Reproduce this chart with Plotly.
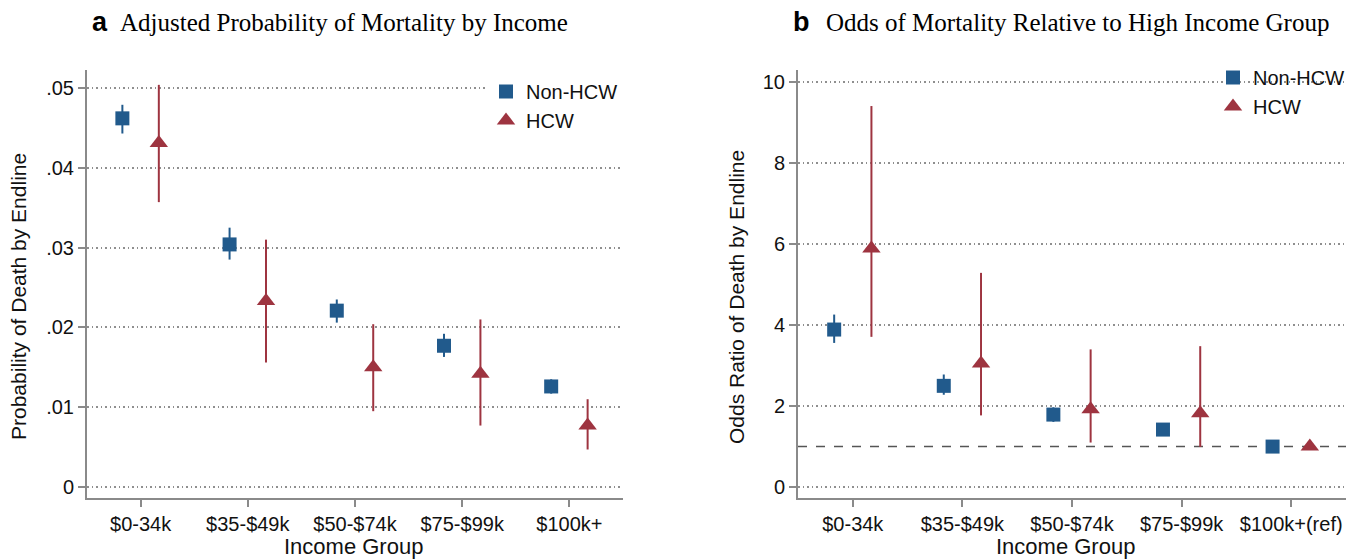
import plotly.graph_objects as go

categories = ["$0-34k", "$35-$49k", "$50-$74k", "$75-$99k", "$100k+"]
categories_b = ["$0-34k", "$35-$49k", "$50-$74k", "$75-$99k", "$100k+(ref)"]

# Panel a: adjusted probability of death
a_non_hcw = [0.0462, 0.0304, 0.0221, 0.0177, 0.0126]
a_non_hcw_lo = [0.0443, 0.0285, 0.0206, 0.0163, 0.0117]
a_non_hcw_hi = [0.0479, 0.0325, 0.0235, 0.0192, 0.0135]
a_hcw = [0.0431, 0.0233, 0.0150, 0.0142, 0.0077]
a_hcw_lo = [0.0357, 0.0156, 0.0095, 0.0077, 0.0047]
a_hcw_hi = [0.0504, 0.0310, 0.0204, 0.0210, 0.0110]

# Panel b: odds ratio relative to $100k+
b_non_hcw = [3.89, 2.50, 1.79, 1.42, 1.00]
b_non_hcw_lo = [3.56, 2.28, 1.61, 1.28, 1.00]
b_non_hcw_hi = [4.26, 2.78, 1.97, 1.58, 1.00]
b_hcw = [5.89, 3.05, 1.92, 1.82, 1.00]
b_hcw_lo = [3.71, 1.77, 1.10, 0.99, 1.00]
b_hcw_hi = [9.41, 5.29, 3.40, 3.48, 1.00]

a_ticks = [0, 0.01, 0.02, 0.03, 0.04, 0.05]
a_ticktext = ["0", ".01", ".02", ".03", ".04", ".05"]
b_ticks = [0, 2, 4, 6, 8, 10]

BLUE = "#215a8c"
RED = "#9e3440"
AXIS = "#8a8a8a"
GRID = "#8f8f8f"
SANS = "Liberation Sans, Arial, sans-serif"
SERIF = "Liberation Serif, Times New Roman, serif"

W, H = 1364, 559
OFF = 0.17
idx = list(range(len(categories)))


def err(v, lo, hi):
    return dict(type="data", symmetric=False,
                array=[h - x for x, h in zip(v, hi)],
                arrayminus=[x - l for x, l in zip(v, lo)],
                thickness=2, width=0)


fig = go.Figure()

for (xa, ya, leg, nv, nlo, nhi, hv, hlo, hhi) in [
    ("x", "y", "legend", a_non_hcw, a_non_hcw_lo, a_non_hcw_hi, a_hcw, a_hcw_lo, a_hcw_hi),
    ("x2", "y2", "legend2", b_non_hcw, b_non_hcw_lo, b_non_hcw_hi, b_hcw, b_hcw_lo, b_hcw_hi),
]:
    e1 = err(nv, nlo, nhi)
    e1["color"] = BLUE
    fig.add_trace(go.Scatter(
        x=[i - OFF for i in idx], y=nv, mode="markers", name="Non-HCW",
        marker=dict(symbol="square", size=14, color=BLUE),
        error_y=e1, xaxis=xa, yaxis=ya, legend=leg))
    e2 = err(hv, hlo, hhi)
    e2["color"] = RED
    fig.add_trace(go.Scatter(
        x=[i + OFF for i in idx], y=hv, mode="markers", name="HCW",
        marker=dict(symbol="triangle-up", size=16, color=RED),
        error_y=e2, xaxis=xa, yaxis=ya, legend=leg))


def px_x(p):
    return p / W


def px_y(p):
    return 1 - p / H


top, bottom = 70, 498
ydom = [px_y(bottom), px_y(top)]

xaxis_common = dict(
    range=[-0.5, 4.5], tickmode="array", tickvals=idx,
    showline=True, linecolor=AXIS, linewidth=2, ticks="outside",
    ticklen=7, tickwidth=2, tickcolor=AXIS, showgrid=False, zeroline=False,
    tickfont=dict(family=SANS, size=20, color="#111"), fixedrange=True,
)
yaxis_common = dict(
    showline=True, linecolor=AXIS, linewidth=2, ticks="outside",
    ticklen=7, tickwidth=2, tickcolor=AXIS, showgrid=True,
    gridcolor=GRID, gridwidth=1.5, griddash="1.5px,3px", zeroline=False,
    tickfont=dict(family=SANS, size=20, color="#111"), fixedrange=True,
    tickmode="array",
)

fig.update_layout(
    width=W, height=H, margin=dict(l=0, r=0, t=0, b=0),
    paper_bgcolor="white", plot_bgcolor="white",
    xaxis=dict(domain=[px_x(87), px_x(623)], anchor="y",
               ticktext=categories, **xaxis_common),
    yaxis=dict(domain=ydom, anchor="x", range=[-0.00138, 0.05226],
               tickvals=a_ticks, ticktext=a_ticktext, **yaxis_common),
    xaxis2=dict(domain=[px_x(798), px_x(1346)], anchor="y2",
                ticktext=categories_b, **xaxis_common),
    yaxis2=dict(domain=ydom, anchor="x2", range=[-0.27, 10.3],
                tickvals=b_ticks, ticktext=[str(t) for t in b_ticks],
                **yaxis_common),
    legend=dict(x=px_x(486), y=px_y(72), xanchor="left", yanchor="top",
                bgcolor="white", font=dict(family=SANS, size=20, color="#111")),
    legend2=dict(x=px_x(1213), y=px_y(58), xanchor="left", yanchor="top",
                 bgcolor="rgba(0,0,0,0)", font=dict(family=SANS, size=20, color="#111")),
    showlegend=True,
)

# reference line at OR = 1
fig.add_shape(type="line", xref="x2 domain", yref="y2", x0=0, x1=1, y0=1, y1=1,
              line=dict(color="#555555", width=1.5, dash="dash"), layer="below")

ann = []
# panel titles
ann.append(dict(text="<b>a</b>", x=px_x(100), y=px_y(22), xref="paper", yref="paper",
                xanchor="center", yanchor="middle", showarrow=False,
                font=dict(family=SANS, size=27, color="#000")))
ann.append(dict(text="Adjusted Probability of Mortality by Income", x=px_x(118), y=px_y(22),
                xref="paper", yref="paper", xanchor="left", yanchor="middle", showarrow=False,
                font=dict(family=SERIF, size=25, color="#000")))
ann.append(dict(text="<b>b</b>", x=px_x(801), y=px_y(22), xref="paper", yref="paper",
                xanchor="center", yanchor="middle", showarrow=False,
                font=dict(family=SANS, size=27, color="#000")))
ann.append(dict(text="Odds of Mortality Relative to High Income Group", x=px_x(824), y=px_y(22),
                xref="paper", yref="paper", xanchor="left", yanchor="middle", showarrow=False,
                font=dict(family=SERIF, size=25, color="#000")))
# axis titles
ann.append(dict(text="Probability of Death by Endline", x=px_x(18), y=px_y(297),
                xref="paper", yref="paper", xanchor="center", yanchor="middle",
                textangle=-90, showarrow=False, font=dict(family=SANS, size=21, color="#111")))
ann.append(dict(text="Odds Ratio of Death by Endline", x=px_x(736), y=px_y(297),
                xref="paper", yref="paper", xanchor="center", yanchor="middle",
                textangle=-90, showarrow=False, font=dict(family=SANS, size=21, color="#111")))
ann.append(dict(text="Income Group", x=px_x(353), y=px_y(546),
                xref="paper", yref="paper", xanchor="center", yanchor="middle",
                showarrow=False, font=dict(family=SANS, size=22, color="#111")))
ann.append(dict(text="Income Group", x=px_x(1065), y=px_y(546),
                xref="paper", yref="paper", xanchor="center", yanchor="middle",
                showarrow=False, font=dict(family=SANS, size=22, color="#111")))
fig.update_layout(annotations=ann)

fig.write_html("out.html", config={"displayModeBar": False},
               post_script="document.body.style.margin='0';document.body.style.overflow='hidden';")
